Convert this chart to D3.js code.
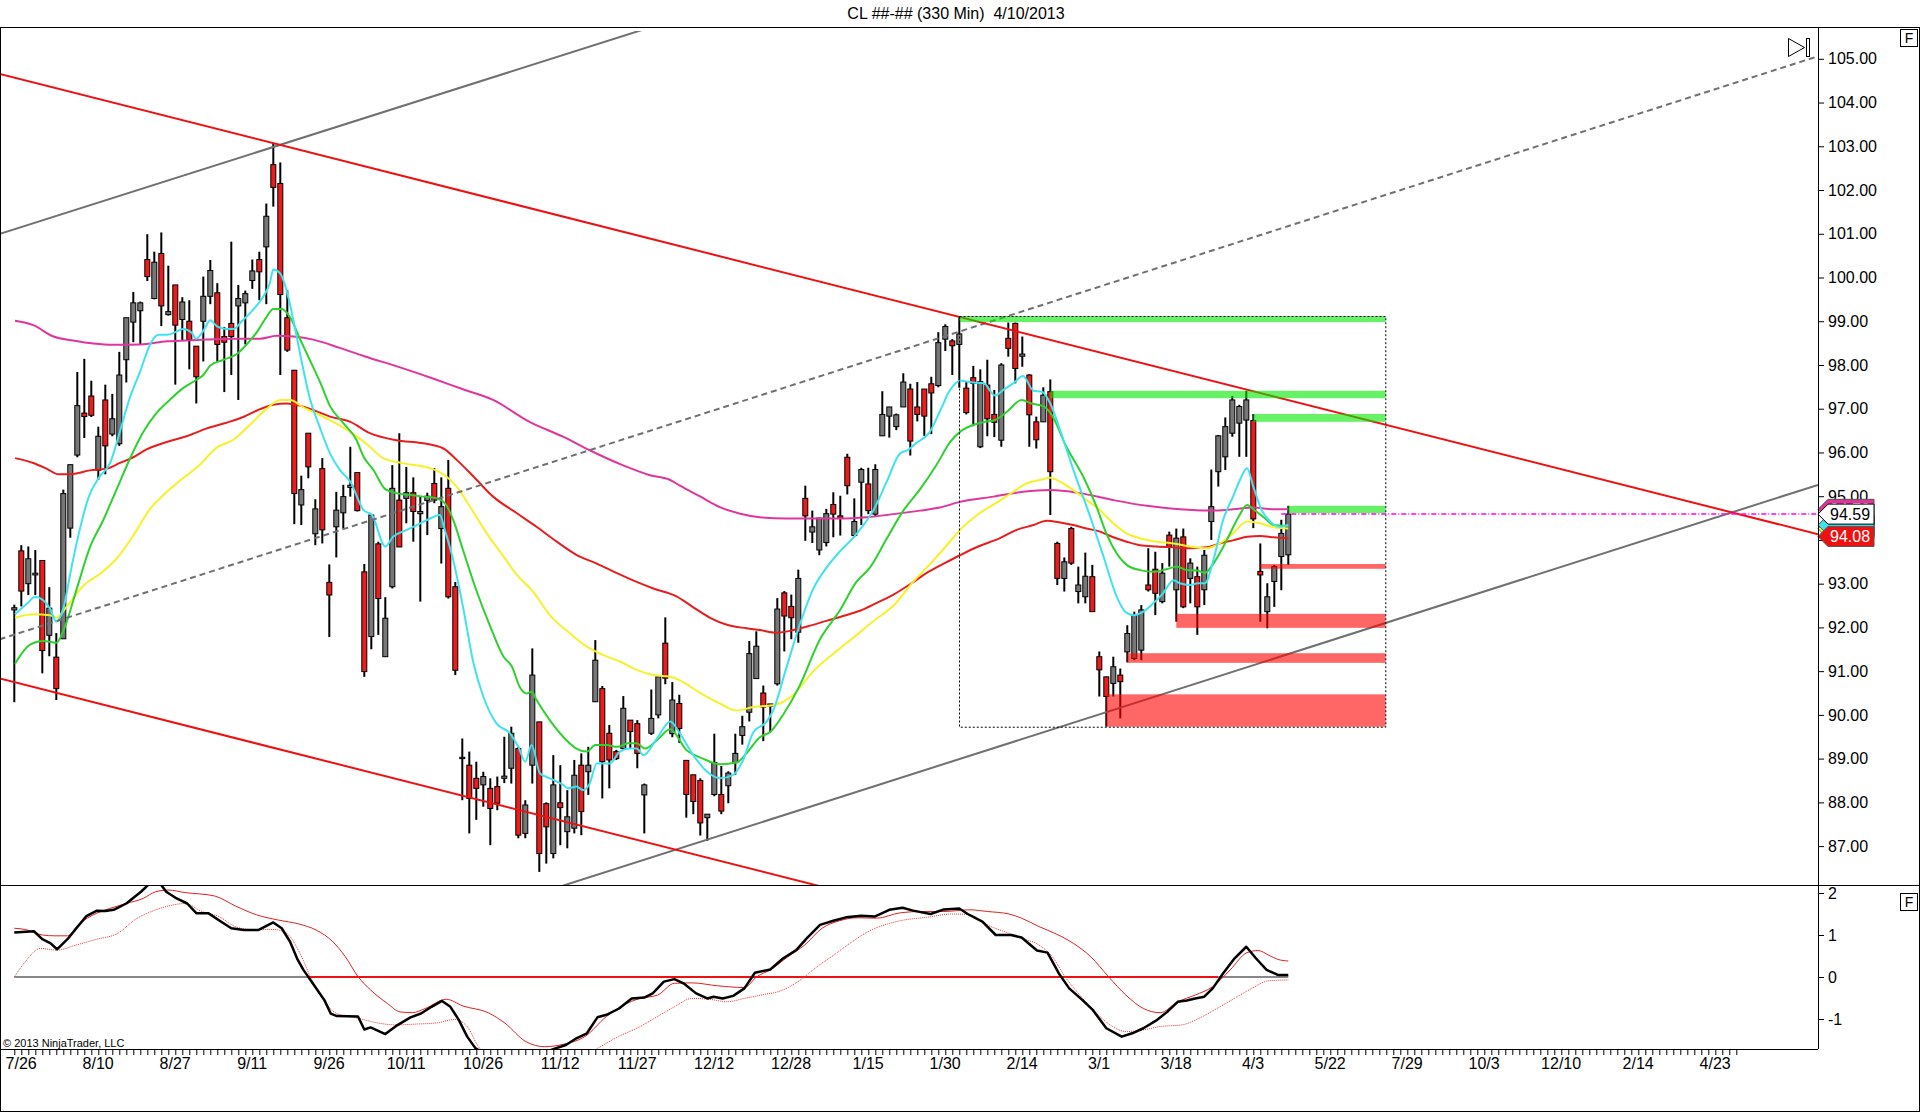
<!DOCTYPE html>
<html>
<head>
<meta charset="utf-8">
<title>CL ##-## (330 Min) 4/10/2013</title>
<script src="https://cdnjs.cloudflare.com/ajax/libs/d3/7.8.5/d3.min.js"></script>
<style>
  html, body { margin: 0; padding: 0; background: #ffffff; }
  svg { display: block; font-family: "Liberation Sans", Arial, sans-serif; }
</style>
</head>
<body>
<div id="chart"></div>
<script>
/*Candles, one per bar*/
const barOpen = [
  92.40, 93.75, 93.00, 93.20, 93.53, 91.82, 91.32, 91.74, 94.27, 95.94,
  96.90, 97.29, 95.59, 97.20, 96.42, 96.20, 98.12, 98.98, 99.24, 100.41,
  99.52, 100.55, 99.15, 99.83, 99.04, 99.00, 98.43, 99.00, 99.57, 99.65,
  98.65, 98.95, 99.35, 99.42, 99.93, 100.41, 100.70, 102.58, 102.15, 99.08,
  97.88, 94.80, 96.44, 94.14, 95.63, 93.03, 94.30, 94.62, 95.20, 95.54,
  93.27, 91.79, 93.91, 91.33, 92.93, 94.91, 94.95, 95.08, 94.60, 94.90,
  95.29, 94.26, 95.18, 92.93, 89.00, 88.85, 88.55, 88.40, 88.32, 88.36,
  88.55, 88.78, 89.23, 87.29, 88.85, 89.84, 87.97, 86.83, 87.99, 87.33,
  87.41, 88.85, 88.70, 90.30, 90.60, 89.58, 89.16, 89.23, 89.88, 89.80,
  88.17, 89.58, 90.00, 91.64, 89.57, 90.26, 88.96, 88.63, 88.50, 87.65,
  88.18, 88.18, 88.38, 88.91, 89.53, 90.06, 90.83, 90.50, 90.20, 90.71,
  92.79, 92.48, 91.89, 94.95, 94.18, 93.77, 93.94, 94.81, 94.55, 95.89,
  94.10, 95.32, 95.28, 94.59, 96.38, 96.83, 96.59, 97.04, 97.45, 97.04,
  97.45, 97.57, 97.53, 98.59, 98.55, 98.47, 97.47, 97.71, 96.13, 97.54,
  96.87, 96.28, 98.61, 98.95, 98.20, 97.77, 96.70, 96.70, 97.39, 93.92,
  93.12, 94.26, 92.82, 92.70, 93.16, 91.33, 90.87, 90.72, 90.91, 91.44,
  91.29, 91.48, 92.97, 93.33, 92.59, 94.11, 92.86, 94.07, 93.12, 93.16,
  92.86, 94.42, 95.56, 95.90, 96.44, 96.67, 96.74, 96.73, 93.28, 92.36,
  93.05, 93.62, 93.66
];
const barHigh = [
  92.52, 93.88, 93.85, 93.77, 93.53, 92.92, 91.87, 95.15, 95.72, 97.84,
  98.14, 97.64, 96.59, 97.55, 97.34, 98.30, 99.08, 99.67, 99.45, 100.99,
  100.59, 101.03, 100.27, 99.83, 99.55, 99.48, 98.43, 100.02, 100.40, 99.87,
  98.87, 100.82, 99.83, 99.70, 100.41, 100.59, 101.69, 103.07, 102.63, 99.71,
  97.88, 95.47, 96.44, 94.93, 95.87, 93.44, 95.10, 95.26, 96.13, 95.54,
  93.45, 94.57, 93.96, 92.69, 95.71, 96.44, 95.67, 95.43, 94.99, 95.08,
  95.64, 95.43, 95.83, 93.04, 89.46, 89.16, 88.93, 88.70, 88.55, 88.59,
  89.50, 89.73, 89.27, 88.05, 91.52, 89.84, 88.00, 89.08, 88.85, 88.28,
  88.97, 89.12, 89.27, 91.71, 90.66, 89.77, 89.20, 90.43, 89.88, 89.88,
  88.43, 90.58, 90.87, 92.23, 90.75, 90.46, 88.96, 88.63, 88.55, 87.73,
  89.57, 88.83, 88.71, 89.57, 89.98, 91.69, 91.91, 90.67, 90.25, 92.67,
  92.83, 92.75, 93.32, 95.24, 94.67, 94.50, 94.71, 95.09, 95.01, 95.97,
  94.95, 95.65, 95.65, 95.73, 97.40, 97.04, 96.89, 97.81, 97.57, 97.61,
  97.45, 97.73, 98.75, 98.93, 98.59, 99.12, 97.62, 97.98, 97.90, 98.12,
  97.43, 98.04, 98.97, 98.97, 98.65, 97.79, 96.82, 97.49, 97.67, 93.96,
  93.60, 94.30, 93.39, 93.71, 93.43, 91.45, 90.87, 91.33, 91.06, 92.05,
  92.36, 92.51, 93.81, 93.73, 93.47, 94.19, 94.26, 94.26, 93.58, 93.39,
  93.77, 95.61, 96.40, 96.80, 97.29, 97.09, 97.41, 96.88, 93.92, 93.01,
  93.43, 94.46, 94.78
];
const barLow = [
  90.29, 92.48, 92.74, 92.74, 90.95, 91.34, 90.34, 91.74, 94.05, 95.89,
  96.33, 96.81, 95.37, 95.50, 96.37, 96.15, 97.60, 98.52, 98.47, 99.92,
  99.50, 98.89, 99.13, 97.55, 98.56, 97.90, 97.12, 98.08, 99.39, 98.08,
  97.38, 97.77, 97.20, 98.47, 99.74, 99.48, 99.39, 101.62, 97.77, 98.30,
  94.36, 94.34, 95.41, 93.88, 93.92, 91.78, 93.60, 94.26, 94.99, 94.65,
  90.87, 91.50, 91.83, 91.33, 92.89, 93.84, 94.38, 93.96, 92.59, 94.11,
  94.84, 93.46, 92.66, 90.91, 88.05, 87.29, 87.60, 87.90, 87.02, 87.82,
  88.44, 88.43, 87.18, 87.18, 88.43, 86.41, 86.60, 86.72, 87.02, 86.95,
  87.29, 87.25, 88.17, 90.30, 88.09, 88.32, 88.97, 89.20, 89.23, 88.78,
  87.29, 89.54, 89.92, 90.70, 89.49, 89.36, 87.65, 87.73, 87.24, 87.12,
  88.14, 87.73, 87.98, 88.63, 89.32, 89.85, 90.83, 89.40, 89.60, 90.67,
  91.45, 91.73, 91.65, 93.98, 93.93, 93.65, 93.85, 94.06, 94.10, 95.04,
  94.06, 94.34, 94.59, 94.55, 96.38, 96.34, 96.51, 97.04, 95.93, 96.71,
  96.38, 96.42, 97.49, 98.32, 97.77, 97.48, 96.87, 96.60, 96.10, 96.37,
  96.35, 96.13, 98.19, 97.58, 97.96, 96.13, 96.09, 96.70, 94.57, 92.97,
  92.82, 93.43, 92.55, 92.55, 92.36, 90.42, 89.73, 90.42, 89.92, 91.20,
  91.25, 91.25, 92.82, 92.28, 92.55, 93.39, 92.13, 92.44, 92.55, 91.83,
  92.51, 94.00, 95.22, 95.60, 96.36, 95.90, 95.90, 94.27, 92.13, 91.98,
  92.47, 92.85, 93.43
];
const barClose = [
  92.45, 92.83, 93.57, 93.24, 91.47, 92.44, 90.60, 95.06, 95.72, 97.07,
  96.82, 96.85, 96.37, 96.15, 96.77, 97.77, 99.08, 99.42, 99.42, 100.02,
  100.35, 99.35, 99.22, 98.91, 99.44, 98.58, 97.73, 99.57, 100.16, 98.47,
  98.52, 98.65, 99.52, 99.63, 100.15, 100.13, 101.40, 102.06, 99.61, 98.34,
  95.06, 95.15, 95.67, 94.71, 94.23, 92.74, 94.68, 94.99, 95.25, 94.67,
  90.99, 94.57, 92.66, 92.21, 95.18, 93.84, 95.08, 94.65, 94.65, 95.00,
  94.91, 94.76, 92.70, 91.02, 89.03, 88.09, 88.32, 88.59, 87.86, 87.98,
  88.60, 89.58, 87.25, 87.94, 90.91, 86.83, 87.44, 88.40, 87.88, 87.67,
  88.62, 87.79, 88.85, 91.25, 88.93, 88.97, 89.00, 90.15, 89.62, 89.12,
  88.40, 89.92, 90.87, 90.84, 90.34, 89.69, 88.18, 88.02, 87.53, 87.73,
  88.91, 87.80, 88.67, 89.12, 89.73, 91.40, 91.57, 90.18, 90.25, 92.42,
  92.26, 92.22, 93.12, 94.55, 94.30, 94.50, 94.60, 94.59, 94.50, 95.24,
  94.42, 95.61, 94.67, 95.61, 96.87, 97.04, 96.86, 97.61, 96.26, 96.87,
  96.83, 97.36, 98.51, 98.88, 98.44, 98.71, 96.91, 97.58, 97.62, 96.77,
  96.69, 98.00, 98.38, 97.92, 98.25, 96.86, 96.29, 97.31, 95.56, 93.12,
  93.50, 93.47, 92.97, 93.17, 92.36, 91.03, 90.42, 91.10, 90.76, 91.86,
  92.28, 92.40, 92.86, 92.78, 93.24, 93.85, 94.04, 92.47, 93.47, 92.47,
  93.65, 94.76, 96.38, 96.59, 97.20, 97.05, 97.20, 94.48, 93.20, 92.70,
  93.39, 94.15, 94.59
];

/*Axis labels*/
const dateLabels = ["7/26", "8/10", "8/27", "9/11", "9/26", "10/11", "10/26", "11/12", "11/27", "12/12", "12/28",
  "1/15", "1/30", "2/14", "3/1", "3/18", "4/3", "5/22", "7/29", "10/3", "12/10", "2/14", "4/23"];
const priceTicks = [87, 88, 89, 90, 91, 92, 93, 94, 95, 96, 97, 98, 99, 100, 101, 102, 103, 104, 105];
const oscTicks = [2, 1, 0, -1];

/*Moving averages as [bar, price] points*/
const maCyan = [[0.1,92.3],[2,92.57],[2.95,92.7],[5.1,92.43],[6,92.13],[7,92.43],[8.2,93.4],[9.4,94.27],[10.6,94.97],[12.2,95.45],[13.7,95.76],[14.9,96.37],[16.5,97.25],[18,97.86],[19.4,98.47],[20.6,98.69],[21.8,98.69],[23,98.75],[24.1,98.82],[25.3,98.74],[26,98.6],[27,98.78],[28,99.02],[28.9,98.89],[30.3,98.82],[31.3,98.82],[32.5,99.0],[34.1,99.26],[35.6,99.57],[36.5,99.87],[37,100.18],[38,100.09],[38.9,99.7],[39.9,99.0],[41,98.12],[42.2,97.25],[43.7,96.55],[45.1,95.98],[46.5,95.6],[48,95.33],[49.9,94.68],[51.1,94.57],[53,93.85],[54.1,94.07],[56.1,94.23],[58,94.38],[59.4,94.49],[60.8,94.57],[61.5,94.23],[62.7,93.54],[64.1,92.47],[65.6,91.18],[67,90.42],[68.9,89.8],[70.8,89.58],[72,89.27],[73,88.93],[73.9,89.31],[75.1,88.66],[76.5,88.55],[78.4,88.4],[79.1,88.32],[80.3,88.36],[81.3,88.28],[82.2,88.43],[83.2,88.89],[85.1,88.89],[86.5,89.16],[87.9,89.23],[88.9,89.23],[89.9,89.08],[91.8,89.46],[93.7,89.85],[95.1,89.57],[97,89.08],[98.9,88.71],[100.8,88.55],[102.7,88.63],[104.1,88.96],[105.6,89.61],[107.5,89.85],[108.4,90.1],[110.3,91.08],[112.2,92.06],[114.1,92.87],[116,93.36],[117.9,93.73],[119.9,94.06],[121.3,94.34],[122.7,94.67],[124.6,95.32],[126.5,95.97],[127.7,96.06],[128.9,96.22],[130.8,96.47],[132.2,96.93],[133.7,97.43],[135.1,97.64],[137,97.6],[138.5,97.58],[140.1,97.3],[141.3,97.43],[142.7,97.58],[144.1,97.75],[145.6,97.41],[146.8,97.39],[148,97.12],[149.4,96.51],[151.3,95.6],[153.7,94.53],[155.6,93.62],[157.5,92.7],[158.7,92.36],[159.9,92.28],[161.3,92.36],[162.7,92.55],[164.1,92.78],[165.6,93.08],[166.5,93.01],[168,92.97],[169.1,93.01],[170.1,93.01],[171.3,93.54],[172.7,94.46],[174.1,94.99],[175.1,95.37],[176.1,95.64],[177,95.22],[178.2,94.68],[179.4,94.42],[180.8,94.3],[182,94.34]];
const maGreen = [[0.1,91.17],[2.2,91.6],[4.1,91.69],[6,91.65],[7.2,92.0],[8.9,92.87],[10.8,93.83],[12.7,94.45],[14.6,95.15],[16.5,95.85],[18.4,96.46],[20.3,96.9],[22.2,97.2],[24.1,97.47],[25.8,97.64],[27,97.77],[28,97.99],[29.9,98.12],[31.8,98.25],[33.2,98.47],[34.6,98.74],[36,99.09],[37,99.28],[38.2,99.28],[39.4,99.09],[40.8,98.6],[42.2,98.12],[43.7,97.6],[45.1,97.06],[47,96.67],[48.9,96.28],[49.9,95.9],[51.3,95.6],[53,95.16],[54.6,95.07],[56.5,95.03],[58.4,94.99],[60.3,94.95],[61.5,94.84],[62.7,94.46],[64.1,93.77],[66,92.85],[68,92.02],[69.9,91.33],[71.1,91.1],[72.2,90.64],[73.2,90.49],[73.9,90.53],[74.6,90.34],[76.5,89.88],[78.4,89.5],[80.3,89.23],[81.8,89.16],[83,89.31],[84.6,89.31],[86.1,89.27],[87.7,89.35],[88.9,89.35],[90.1,89.23],[91.8,89.42],[93.7,89.67],[96,89.2],[98.4,89.0],[100.8,88.87],[103.2,88.91],[104.6,89.12],[106.5,89.49],[108,89.61],[109.9,90.02],[112.2,90.67],[115.1,91.73],[117.9,92.38],[120.3,93.04],[122.2,93.36],[124.6,94.02],[127,94.67],[129.4,95.16],[131.8,95.73],[133.7,96.24],[135.1,96.47],[137,96.63],[138.6,96.7],[140.1,96.74],[141.8,96.93],[143.9,97.2],[145.3,97.12],[147,97.06],[148.2,96.86],[150.3,96.13],[152.7,95.45],[154.6,94.76],[156,94.15],[157.5,93.69],[158.9,93.43],[160.8,93.31],[162.7,93.27],[164.6,93.33],[166.1,93.39],[167.5,93.31],[168.9,93.3],[170.1,93.25],[171.3,93.46],[173.2,93.99],[174.9,94.53],[176.1,94.8],[177.2,94.68],[178.7,94.49],[179.9,94.34],[182,94.32]];
const maYellow = [[0.1,92.22],[2.7,92.3],[5.1,92.28],[6,92.22],[7.5,92.48],[9.9,92.96],[12.2,93.22],[14.6,93.57],[17,94.1],[19.4,94.71],[21.8,95.1],[24.1,95.41],[26.5,95.72],[28.9,96.11],[31.3,96.29],[33.7,96.64],[36,96.99],[38,97.2],[39.4,97.2],[41.3,97.03],[43.7,96.85],[45.1,96.74],[48,96.47],[50.3,96.2],[52.7,95.87],[55.6,95.75],[59.4,95.64],[61.5,95.48],[63.2,95.22],[65.1,94.76],[67.5,94.15],[69.9,93.62],[71.8,93.2],[74.1,92.82],[76.5,92.28],[79.4,91.86],[81.8,91.56],[84.1,91.37],[86.5,91.22],[88.9,91.03],[91.3,90.91],[93.7,90.87],[95.1,90.79],[97.9,90.51],[100.8,90.26],[103.2,90.1],[105.6,90.18],[108.4,90.22],[111.3,90.46],[114.1,90.99],[117,91.4],[119.9,91.77],[122.7,92.14],[125.6,92.5],[128.4,93.04],[131.3,93.53],[133.7,93.97],[135.1,94.23],[137.9,94.61],[140.8,94.9],[142.7,95.1],[144.6,95.29],[146.5,95.37],[148,95.42],[149.4,95.33],[151.3,95.14],[153.2,94.91],[155.1,94.68],[157,94.38],[158.9,94.15],[160.8,94.04],[163.2,93.96],[165.6,93.92],[168,93.85],[170.3,93.81],[172.2,93.92],[174.1,94.15],[176.1,94.42],[178,94.38],[179.9,94.29],[182,94.26]];
const maRed = [[0.1,95.87],[2.7,95.76],[4.6,95.63],[6.3,95.5],[8.4,95.51],[10.8,95.59],[13.2,95.63],[15.1,95.76],[17,95.89],[18.9,96.07],[21.8,96.24],[24.6,96.37],[27.5,96.55],[30.3,96.68],[32.7,96.81],[35.1,96.99],[37,97.09],[38.9,97.12],[40.8,97.07],[43.2,96.94],[45.1,96.82],[48,96.7],[50.8,96.44],[54.6,96.28],[58.4,96.21],[61.3,96.09],[63.2,95.83],[65.6,95.45],[68.4,94.99],[71.8,94.61],[74.6,94.3],[77.5,93.96],[80.3,93.66],[83.2,93.46],[86.1,93.24],[88.9,93.04],[91.3,92.89],[94.6,92.71],[97,92.46],[99.4,92.22],[101.8,92.06],[104.6,91.98],[106.5,91.94],[108.9,91.88],[111.3,91.94],[113.7,92.04],[116,92.15],[118.4,92.26],[120.8,92.38],[123.2,92.56],[125.6,92.75],[128,92.99],[130.3,93.24],[132.7,93.45],[135.1,93.65],[137.7,93.85],[140.8,94.04],[143.2,94.23],[145.6,94.34],[147.5,94.44],[149.4,94.4],[151.3,94.34],[153.2,94.26],[155.1,94.19],[157,94.06],[158.9,93.96],[160.8,93.88],[163.2,93.85],[165.6,93.83],[168,93.81],[170.3,93.83],[172.2,93.92],[174.1,93.99],[176.1,94.07],[178,94.09],[179.9,94.06],[182,94.04]];
const maMagenta = [[0.1,99.01],[2.7,98.91],[5.6,98.65],[8.4,98.56],[11.3,98.49],[14.1,98.46],[18,98.47],[21.8,98.54],[24.6,98.56],[27.5,98.58],[31.3,98.6],[35.1,98.6],[37.5,98.67],[39.9,98.65],[42.7,98.58],[46.5,98.39],[50,98.2],[55,97.95],[60,97.68],[64,97.45],[68.4,97.2],[73.6,96.7],[78.4,96.36],[82.2,96.05],[86.9,95.71],[90.8,95.48],[93.7,95.37],[95.1,95.24],[97.9,95.0],[100.8,94.75],[103.7,94.6],[106.5,94.52],[110.3,94.49],[114.1,94.49],[117.9,94.49],[121.8,94.52],[125.6,94.59],[129.4,94.67],[132.2,94.74],[135.1,94.87],[139.9,94.99],[144.1,95.1],[148,95.14],[152.2,95.07],[157,94.91],[161.8,94.78],[166.5,94.7],[170.8,94.67],[174.1,94.7],[177,94.74],[179.9,94.7],[182,94.7]];

/*Lower panel oscillator as [bar, value] points*/
const oscMain = [[0,1.06],[2.8,1.09],[4,0.90],[5.2,0.80],[6.1,0.66],[7.6,0.90],[9.1,1.21],[10.3,1.45],[11.8,1.58],[13,1.57],[14.2,1.60],[16,1.75],[18.1,2.03],[19.5,2.25],[20.5,2.3],[21.7,2.03],[23.2,1.87],[24.7,1.75],[26,1.52],[27.7,1.52],[29.5,1.32],[31,1.16],[32.8,1.12],[34.9,1.12],[37,1.30],[38.2,1.16],[39.4,0.84],[40.4,0.44],[41.3,0.17],[42.8,-0.19],[44.3,-0.55],[45.2,-0.87],[46.1,-0.93],[49.1,-0.94],[50,-1.25],[50.9,-1.2],[53,-1.36],[54.5,-1.17],[56.6,-0.96],[58.1,-0.87],[59.6,-0.71],[61.1,-0.57],[62.3,-0.71],[63.5,-1.02],[64.7,-1.42],[65.9,-1.70],[68,-1.9],[71,-2.0],[74,-1.9],[77.3,-1.70],[78.8,-1.62],[80.3,-1.46],[81.8,-1.34],[83.3,-0.96],[84.6,-0.90],[86.4,-0.75],[88.2,-0.51],[90,-0.49],[91.2,-0.39],[92.8,-0.11],[94.3,-0.05],[95.6,-0.15],[97.4,-0.39],[99,-0.51],[99.9,-0.47],[101.2,-0.51],[102.7,-0.45],[104.3,-0.27],[105.8,0.10],[108,0.18],[109.8,0.44],[111.7,0.64],[113.2,0.92],[115.1,1.24],[117,1.34],[118.8,1.42],[121,1.46],[122.9,1.44],[125,1.60],[126.9,1.65],[128.4,1.58],[130.9,1.50],[132.8,1.61],[135,1.63],[136.2,1.50],[138.3,1.32],[140.2,1.00],[142.4,1.00],[143.9,0.94],[146.1,0.63],[147.6,0.58],[149.2,0.09],[150.7,-0.27],[152.6,-0.55],[154.1,-0.79],[156,-1.22],[158.2,-1.42],[159.7,-1.34],[161.3,-1.22],[163.1,-1.04],[164.7,-0.83],[166.2,-0.59],[167.5,-0.56],[168.7,-0.51],[170,-0.47],[171.2,-0.27],[172.7,0.09],[174.3,0.44],[176,0.72],[177.4,0.44],[178.9,0.17],[180.5,0.05],[182,0.05]];
const oscSignal = [[0,1.16],[1.6,1.13],[4,1.0],[5.8,0.98],[7.6,0.98],[9.1,1.24],[11.8,1.52],[13.6,1.63],[16,1.75],[18.4,1.87],[20.2,2.03],[22,2.07],[24.4,2.01],[28.6,1.93],[31.6,1.69],[34.6,1.48],[37.6,1.36],[40.7,1.26],[43.1,1.12],[45.5,0.84],[47.3,0.48],[49.1,0.01],[50.9,-0.31],[53.3,-0.63],[55.1,-0.83],[56.9,-0.85],[58.7,-0.75],[61.7,-0.53],[64.1,-0.69],[67.7,-0.85],[70.1,-1.1],[73.1,-1.54],[75.8,-1.66],[78.5,-1.6],[81.5,-1.42],[84.6,-0.94],[87,-0.67],[89.4,-0.51],[91.9,-0.43],[94.3,-0.15],[96.8,-0.14],[100.5,-0.21],[104.3,-0.25],[106.1,0.01],[108,0.17],[110.5,0.48],[112.9,0.76],[115.4,1.16],[117.9,1.34],[120.4,1.41],[123.2,1.40],[126.6,1.53],[129.7,1.56],[132.8,1.56],[136.5,1.60],[139,1.56],[142.1,1.50],[143.9,1.40],[146.4,1.20],[148.9,1.02],[151.3,0.80],[153.8,0.48],[156.3,0.01],[158.8,-0.43],[161.3,-0.75],[163.7,-0.85],[166.2,-0.59],[168.7,-0.43],[171.2,-0.23],[173.7,0.17],[176.1,0.58],[177.7,0.63],[179.2,0.52],[180.5,0.42],[182,0.38]];
const oscSlow = [[0,0.0],[1.6,0.37],[3.7,0.68],[6.1,0.64],[8.8,0.76],[11.8,0.90],[14.8,1.04],[17.2,1.36],[19.6,1.56],[22,1.69],[24.4,1.75],[26.8,1.56],[29.2,1.44],[31.6,1.2],[34,1.13],[37.1,1.13],[38.9,1.04],[40.7,0.60],[42.5,-0.07],[44.3,-0.59],[46.1,-0.87],[49.1,-0.98],[52.1,-1.1],[54.5,-1.14],[57.5,-1.12],[60.5,-1.09],[62.9,-1.01],[64.7,-1.18],[66.5,-1.70],[70,-2.0],[80,-2.0],[83.3,-1.70],[86.3,-1.42],[89.4,-1.18],[91.9,-0.94],[94.3,-0.71],[96.8,-0.51],[99.3,-0.53],[101.8,-0.59],[104.3,-0.51],[106.7,-0.43],[109.8,-0.31],[112.3,-0.07],[114.8,0.26],[117.3,0.55],[119.7,0.84],[122.2,1.10],[124.7,1.26],[127.2,1.36],[130.3,1.42],[134,1.50],[136.5,1.48],[139,1.24],[142.1,1.04],[143.9,0.92],[146.4,0.76],[148.3,0.48],[150.1,0.01],[152,-0.39],[154.4,-0.83],[156.9,-1.18],[158.8,-1.30],[161.3,-1.26],[163.7,-1.18],[166.8,-1.14],[169.3,-0.98],[171.8,-0.75],[174.3,-0.51],[176.8,-0.27],[179.2,-0.09],[182,-0.07]];
/*Zero line changes colour at these bars*/
const zeroBreaks = [0, 42, 172, 182];

/*Drawing objects: trend lines as two [bar, price] anchors*/
const trendRedTop = [[37, 103.07], [135, 99.10]];
const trendRedLow = [[45.1, 88.92], [93.7, 86.95]];
const trendGrayTop = [[-2.04, 101.0], [88.9, 105.62]];
const trendGrayDash = [[-2.04, 91.73], [257.7, 105.06]];
const trendGrayLow = [[81.4, 86.25], [257.7, 95.26]];

/*Support / resistance zones*/
const zoneStart = [135, 148, 177, 182, 178, 166, 159, 156];
const zoneTop = [99.12, 97.41, 96.88, 94.78, 93.45, 92.31, 91.41, 90.47];
const zoneBottom = [98.98, 97.24, 96.70, 94.61, 93.34, 91.99, 91.19, 89.73];
const zoneKind = ["res", "res", "res", "res", "sup", "sup", "sup", "sup"];
const boxBars = [135, 195.9];
const boxPrices = [99.12, 89.73];

/*Right axis markers (magenta MA, green, yellow, cyan, last price, red)*/
const lastPrice = 94.59;
const markerValues = [94.70, 94.32, 94.26, 94.34, 94.59, 94.08];

document.addEventListener("DOMContentLoaded", function(){

       const chartWidth = 1920;
       const chartHeight = 1113;
       const axisX = 1818;
       const panelTop = 27;
       const panelSplit = 885;
       const panelBottom = 1049;

       /*Colours*/
       const upColor = "#777777";
       const downColor = "#ee1b1b";
       const markerFill = ["#e0339a", "#33cc33", "#ffff33", "#40e0ec", "#ffffff", "#ee1111"];
       const markerText = ["#ffffff", "#000000", "#000000", "#000000", "#000000", "#ffffff"];
       /*the green and cyan tags sit fully under the others, their numbers are not shown*/
       const markerShowText = [true, false, true, false, true, true];

       const xScale = d3.scaleLinear().domain([0, 182]).range([14.3, 1288.3]);
       const yScale = d3.scaleLinear().domain([87, 105]).range([846.1, 58.8]);
       const oscScale = d3.scaleLinear().domain([-1, 2]).range([1019, 893]);

       const svg = d3.select("#chart")
              .append("svg")
              .attr("width", chartWidth)
              .attr("height", chartHeight);

       const defs = svg.append("defs");
       defs.append("clipPath").attr("id", "clipPrice")
              .append("rect").attr("x", 1).attr("y", 31).attr("width", axisX - 1).attr("height", panelSplit - 31);
       defs.append("clipPath").attr("id", "clipOsc")
              .append("rect").attr("x", 1).attr("y", panelSplit + 1).attr("width", axisX - 1).attr("height", panelBottom - panelSplit - 1);

       /*Title*/
       svg.append("text")
              .attr("x", 956)
              .attr("y", 19)
              .attr("text-anchor", "middle")
              .style("font-size", "16px")
              .style("white-space", "pre")
              .text("CL ##-## (330 Min)  4/10/2013");

       const pricePanel = svg.append("g").attr("clip-path", "url(#clipPrice)");
       const oscPanel = svg.append("g").attr("clip-path", "url(#clipOsc)");

       /*Candles*/
       const bars = barOpen.map((o, i) => ({i: i, o: o, h: barHigh[i], l: barLow[i], c: barClose[i]}));

       pricePanel.append("g").selectAll("line")
              .data(bars)
              .enter()
              .append("line")
              .attr("x1", (d) => xScale(d.i))
              .attr("x2", (d) => xScale(d.i))
              .attr("y1", (d) => yScale(d.h))
              .attr("y2", (d) => yScale(d.l))
              .attr("stroke", "#000")
              .attr("stroke-width", 2);

       pricePanel.append("g").selectAll("rect")
              .data(bars)
              .enter()
              .append("rect")
              .attr("x", (d) => xScale(d.i) - 2.5)
              .attr("width", 5)
              .attr("y", (d) => yScale(Math.max(d.o, d.c)))
              .attr("height", (d) => Math.max(1, Math.abs(yScale(d.o) - yScale(d.c))))
              .attr("fill", (d) => d.c >= d.o ? upColor : downColor)
              .attr("stroke", "#000")
              .attr("stroke-width", 1);

       /*Moving averages*/
       const maLine = d3.line()
              .x((d) => xScale(d[0]))
              .y((d) => yScale(d[1]))
              .curve(d3.curveMonotoneX);

       [[maMagenta, "#e0359c"], [maRed, "#e61e1e"], [maYellow, "#f6f22a"], [maGreen, "#2ed12e"], [maCyan, "#3ee3ef"]]
              .forEach(([series, color]) => {
                     pricePanel.append("path")
                            .datum(series)
                            .attr("d", maLine)
                            .attr("fill", "none")
                            .attr("stroke", color)
                            .attr("stroke-width", 2);
              });

       /*Trend lines, extended across the panel*/
       const priceOn = (pts, bar) => pts[0][1] + (pts[1][1] - pts[0][1]) * (bar - pts[0][0]) / (pts[1][0] - pts[0][0]);
       const drawTrend = (pts, color, dash) => {
              const b0 = -2.1, b1 = xScale.invert(axisX);
              pricePanel.append("line")
                     .attr("x1", xScale(b0)).attr("y1", yScale(priceOn(pts, b0)))
                     .attr("x2", xScale(b1)).attr("y2", yScale(priceOn(pts, b1)))
                     .attr("stroke", color)
                     .attr("stroke-width", 2)
                     .attr("stroke-dasharray", dash);
       };
       drawTrend(trendGrayTop, "#707070", null);
       drawTrend(trendGrayDash, "#707070", "6,4");
       drawTrend(trendGrayLow, "#707070", null);
       drawTrend(trendRedTop, "#ee1111", null);
       drawTrend(trendRedLow, "#ee1111", null);

       /*Zones*/
       pricePanel.append("g").selectAll("rect")
              .data(zoneStart)
              .enter()
              .append("rect")
              .attr("x", (d) => xScale(d))
              .attr("width", (d) => xScale(boxBars[1]) - xScale(d))
              .attr("y", (d, i) => yScale(zoneTop[i]))
              .attr("height", (d, i) => yScale(zoneBottom[i]) - yScale(zoneTop[i]))
              .attr("fill", (d, i) => zoneKind[i] === "res" ? "rgba(0,232,0,0.6)" : "rgba(255,0,0,0.6)");

       /*Dotted box*/
       pricePanel.append("rect")
              .attr("x", Math.round(xScale(boxBars[0])) + 0.5)
              .attr("y", Math.round(yScale(boxPrices[0])) + 0.5)
              .attr("width", xScale(boxBars[1]) - xScale(boxBars[0]))
              .attr("height", yScale(boxPrices[1]) - yScale(boxPrices[0]))
              .attr("fill", "none")
              .attr("stroke", "#000")
              .attr("stroke-width", 1)
              .attr("stroke-dasharray", "2,2");

       /*Last price line*/
       pricePanel.append("line")
              .attr("x1", xScale(181)).attr("x2", axisX)
              .attr("y1", yScale(lastPrice)).attr("y2", yScale(lastPrice))
              .attr("stroke", "#ff00ff")
              .attr("stroke-width", 1.5)
              .attr("stroke-dasharray", "5,2,1,2");

       /*Oscillator*/
       for (let k = 0; k < zeroBreaks.length - 1; k++) {
              oscPanel.append("line")
                     .attr("x1", xScale(zeroBreaks[k])).attr("x2", xScale(zeroBreaks[k + 1]))
                     .attr("y1", oscScale(0)).attr("y2", oscScale(0))
                     .attr("stroke", k === 1 ? "#ee1111" : "#888888")
                     .attr("stroke-width", 2);
       }
       const oscSmooth = d3.line().x((d) => xScale(d[0])).y((d) => oscScale(d[1])).curve(d3.curveMonotoneX);
       const oscRough = d3.line().x((d) => xScale(d[0])).y((d) => oscScale(d[1]));

       oscPanel.append("path").datum(oscSlow).attr("d", oscSmooth)
              .attr("fill", "none").attr("stroke", "#e23a3a").attr("stroke-width", 1).attr("stroke-dasharray", "1,1");
       oscPanel.append("path").datum(oscSignal).attr("d", oscSmooth)
              .attr("fill", "none").attr("stroke", "#e02020").attr("stroke-width", 1);
       oscPanel.append("path").datum(oscMain).attr("d", oscRough)
              .attr("fill", "none").attr("stroke", "#000").attr("stroke-width", 2.5).attr("stroke-linejoin", "round");

       /*Axes*/
       const yAxis = d3.axisRight(yScale)
              .tickValues(priceTicks)
              .tickFormat(d3.format(".2f"))
              .tickSize(6)
              .tickPadding(4);
       const yAxisG = svg.append("g").attr("transform", "translate(" + axisX + ",0)").call(yAxis);

       const oscAxis = d3.axisRight(oscScale)
              .tickValues(oscTicks)
              .tickFormat((d) => String(d))
              .tickSize(6)
              .tickPadding(4);
       const oscAxisG = svg.append("g").attr("transform", "translate(" + axisX + ",0)").call(oscAxis);

       const tickAxis = d3.axisBottom(xScale)
              .tickValues(d3.range(0, 247))
              .tickFormat("")
              .tickSize(6);
       const tickAxisG = svg.append("g").attr("transform", "translate(0," + panelBottom + ")").call(tickAxis);

       const dateAxis = d3.axisBottom(xScale)
              .tickValues(dateLabels.map((d, k) => 0.9 + 11 * k))
              .tickFormat((d, k) => dateLabels[k])
              .tickSize(0)
              .tickPadding(9);
       const dateAxisG = svg.append("g").attr("transform", "translate(0," + panelBottom + ")").call(dateAxis);

       [yAxisG, oscAxisG, tickAxisG, dateAxisG].forEach((g) => {
              g.select(".domain").remove();
              g.selectAll("text").style("font-size", "16px").style("font-family", "'Liberation Sans', Arial, sans-serif").attr("fill", "#000");
              g.selectAll("line").attr("stroke", "#000");
       });

       /*Price markers on the axis*/
       const markers = svg.append("g");
       markerValues.forEach((v, i) => {
              const y = yScale(v);
              markers.append("path")
                     .attr("d", "M" + axisX + "," + y + " L" + (axisX + 10) + "," + (y - 10) + " L" + (axisX + 56) + "," + (y - 10) +
                            " L" + (axisX + 56) + "," + (y + 10) + " L" + (axisX + 10) + "," + (y + 10) + " Z")
                     .attr("fill", markerFill[i])
                     .attr("stroke", i === 4 ? "#000" : "#555")
                     .attr("stroke-width", 1);
              if (markerShowText[i]) {
                     markers.append("text")
                            .attr("x", axisX + 12)
                            .attr("y", y + 6)
                            .style("font-size", "16px")
                            .attr("fill", markerText[i])
                            .text(v.toFixed(2));
              }
       });

       /*Frame*/
       svg.append("rect").attr("x", 0.5).attr("y", panelTop + 0.5).attr("width", chartWidth - 1).attr("height", chartHeight - panelTop - 2)
              .attr("fill", "none").attr("stroke", "#000");
       svg.append("line").attr("x1", 0).attr("x2", chartWidth).attr("y1", panelSplit + 0.5).attr("y2", panelSplit + 0.5).attr("stroke", "#000");
       svg.append("line").attr("x1", 0).attr("x2", axisX).attr("y1", panelBottom + 0.5).attr("y2", panelBottom + 0.5).attr("stroke", "#000");
       svg.append("line").attr("x1", axisX + 0.5).attr("x2", axisX + 0.5).attr("y1", panelTop).attr("y2", panelBottom).attr("stroke", "#000");

       /*"F" buttons*/
       [panelTop + 2, panelSplit + 8].forEach((y) => {
              svg.append("rect").attr("x", 1900.5).attr("y", y + 0.5).attr("width", 17).attr("height", 17)
                     .attr("fill", "#fff").attr("stroke", "#000");
              svg.append("text").attr("x", 1909).attr("y", y + 14).attr("text-anchor", "middle")
                     .style("font-size", "14px").text("F");
       });

       /*Scroll to end icon*/
       svg.append("path")
              .attr("d", "M1788.5,38.5 L1804.5,47.5 L1788.5,56.5 Z")
              .attr("fill", "#fff").attr("stroke", "#000");
       svg.append("rect").attr("x", 1806.5).attr("y", 38.5).attr("width", 3).attr("height", 18)
              .attr("fill", "#fff").attr("stroke", "#000");

       /*Copyright*/
       svg.append("text")
              .attr("x", 3)
              .attr("y", 1047)
              .style("font-size", "11px")
              .text("\u00a9 2013 NinjaTrader, LLC");
});
</script>
</body>
</html>
